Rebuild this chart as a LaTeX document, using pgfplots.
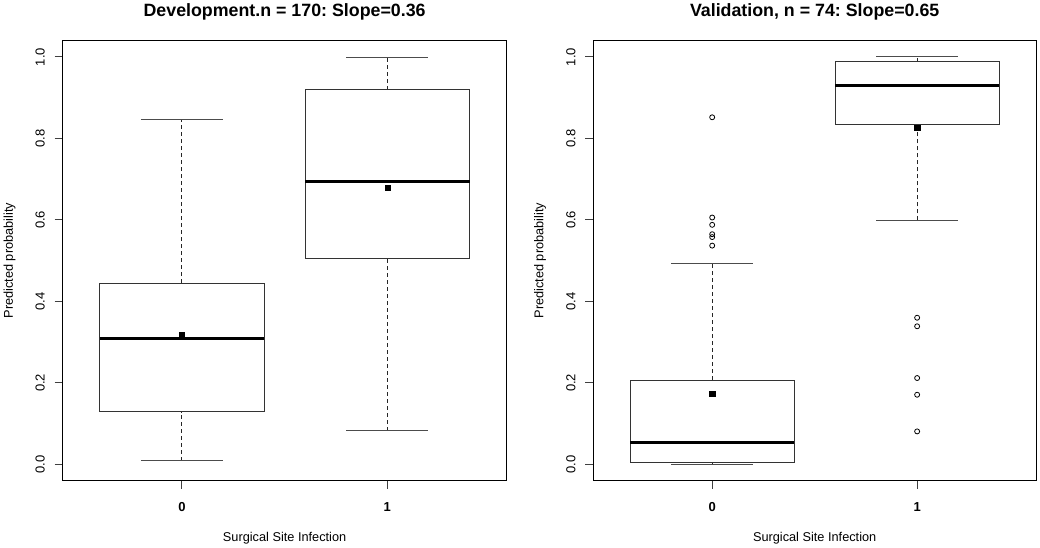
\documentclass[border=0pt]{standalone}
\usepackage{fontspec}
\setmainfont{Liberation Sans}
\usepackage{pgfplots}
\pgfplotsset{compat=1.18}
\usepgfplotslibrary{statistics}
\frenchspacing

\pgfplotsset{
  rbox/.style={
    boxplot/draw direction=y,
    boxplot/box extend=0.8,
    boxplot/whisker extend=0.4,
    boxplot/draw/box/.code={
      \draw[line width=1pt, draw=black!80]
        (boxplot box cs:\pgfplotsboxplotvalue{lower quartile},0) rectangle
        (boxplot box cs:\pgfplotsboxplotvalue{upper quartile},1);
    },
    boxplot/draw/median/.code={
      \draw[line width=3pt, draw=black]
        (boxplot box cs:\pgfplotsboxplotvalue{median},0) --
        (boxplot box cs:\pgfplotsboxplotvalue{median},1);
    },
    boxplot/draw/lower whisker/.code={
      \draw[line width=0.9pt, dash pattern=on 4pt off 3pt, draw=black!85]
        (boxplot box cs:\pgfplotsboxplotvalue{lower whisker},0.5) --
        (boxplot box cs:\pgfplotsboxplotvalue{lower quartile},0.5);
      \draw[line width=1pt, draw=black!70]
        (boxplot whisker cs:\pgfplotsboxplotvalue{lower whisker},0) --
        (boxplot whisker cs:\pgfplotsboxplotvalue{lower whisker},1);
    },
    boxplot/draw/upper whisker/.code={
      \draw[line width=0.9pt, dash pattern=on 4pt off 3pt, draw=black!85]
        (boxplot box cs:\pgfplotsboxplotvalue{upper quartile},0.5) --
        (boxplot box cs:\pgfplotsboxplotvalue{upper whisker},0.5);
      \draw[line width=1pt, draw=black!70]
        (boxplot whisker cs:\pgfplotsboxplotvalue{upper whisker},0) --
        (boxplot whisker cs:\pgfplotsboxplotvalue{upper whisker},1);
    },
    mark=o, mark size=2.5pt, mark options={line width=0.8pt, draw=black},
    forget plot,
  },
  rpanel/.style={
    scale only axis, height=440pt,
    ymin=-0.04, ymax=1.04, xmin=-0.58, xmax=1.58,
    axis line style={line width=1pt, black},
    tick align=outside, tick pos=left, major tick length=8pt,
    tick style={line width=1pt, black!75},
    xtick={0,1}, xticklabels={0,1},
    ytick={0,0.2,0.4,0.6,0.8,1}, yticklabels={0.0,0.2,0.4,0.6,0.8,1.0},
    xticklabel style={font=\fontsize{13}{15}\selectfont\bfseries, inner sep=0pt, anchor=base, yshift=-22.7pt},
    yticklabel style={font=\fontsize{13}{15}\selectfont, inner sep=0pt, xshift=-10pt, rotate=90, anchor=base},
    every axis title/.style={at={(0.5,1)}, anchor=base, yshift=23.75pt,
      font=\fontsize{17.8}{20}\selectfont\bfseries},
    every axis x label/.style={at={(0.5,0)}, anchor=base, yshift=-60.9pt,
      font=\fontsize{12.75}{15}\selectfont},
    every axis y label/.style={at={(0,0.5)}, xshift=-49.85pt, rotate=90, anchor=base,
      font=\fontsize{12.75}{15}\selectfont},
    xlabel={Surgical Site Infection},
    ylabel={Predicted probability},
  },
}

\begin{document}
\begin{tikzpicture}
\path[use as bounding box] (0,0) rectangle (1040pt,548pt);

% Development panel
\begin{axis}[rpanel, at={(62.7pt,67.3pt)}, anchor=south west, width=443.8pt,
  title={Development.n = 170: Slope=0.36}]
\addplot[rbox, boxplot prepared={draw position=0,
  lower whisker=0.0086, lower quartile=0.129, median=0.308,
  upper quartile=0.445, upper whisker=0.847}] coordinates {};
\addplot[rbox, boxplot prepared={draw position=1,
  lower whisker=0.082, lower quartile=0.505, median=0.694,
  upper quartile=0.919, upper whisker=0.998}] coordinates {};
\addplot[only marks, mark=square*, mark size=2.6pt, mark options={fill=black, draw=black, line width=0.4pt}]
  coordinates {(0,0.319) (1,0.680)};
\end{axis}

% Validation panel
\begin{axis}[rpanel, at={(593.3pt,67.3pt)}, anchor=south west, width=442.7pt,
  title={Validation, n = 74: Slope=0.65}]
\addplot[rbox, boxplot prepared={draw position=0,
  lower whisker=0.0, lower quartile=0.005, median=0.053,
  upper quartile=0.2066, upper whisker=0.492}]
  table[row sep=\\, y index=0] {0.852\\0.606\\0.588\\0.565\\0.558\\0.537\\};
\addplot[rbox, boxplot prepared={draw position=1,
  lower whisker=0.599, lower quartile=0.834, median=0.931,
  upper quartile=0.988, upper whisker=1.0}]
  table[row sep=\\, y index=0] {0.360\\0.339\\0.212\\0.171\\0.081\\};
\addplot[only marks, mark=square*, mark size=2.6pt, mark options={fill=black, draw=black, line width=0.4pt}]
  coordinates {(0,0.173) (1,0.827)};
\end{axis}
\end{tikzpicture}
\end{document}
